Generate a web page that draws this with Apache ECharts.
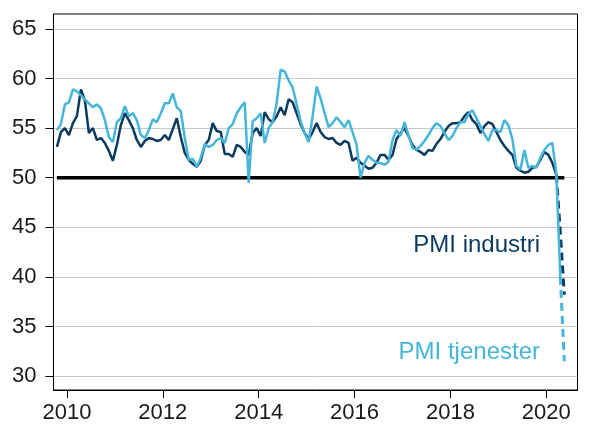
<!DOCTYPE html>
<html>
<head>
<meta charset="utf-8">
<script src="https://cdn.jsdelivr.net/npm/echarts@6/dist/echarts.min.js"></script>
<style>
html,body{margin:0;padding:0;background:#fff;}
#chart{width:590px;height:426px;}
</style>
</head>
<body>
<div id="chart"></div>
<script>
// PMI, månedlige tall fra okt 2009 til mai 2020
var startAar=2009, startMnd=10;
var industri=[
  53.1,54.6,55.0,54.3,55.5,56.2,58.9,57.8,54.5,55.0,53.8,54.0,
  53.5,52.7,51.7,53.3,55.3,56.5,55.8,55.0,53.8,53.1,53.7,54.0,
  53.9,53.7,53.8,54.3,53.8,54.9,56.0,54.1,52.5,51.8,51.4,51.1,
  51.7,53.3,53.8,55.5,54.7,54.6,52.4,52.4,52.1,53.3,53.1,52.6,
  52.3,54.5,55.0,54.2,56.6,55.9,55.6,56.2,57.1,56.3,57.9,57.6,
  56.5,55.4,54.5,53.9,54.6,55.5,54.6,54.1,53.9,54.0,53.5,53.3,
  53.7,53.5,51.7,52.0,51.5,51.2,50.9,51.0,51.5,52.3,52.3,51.8,
  52.3,53.9,54.5,55.0,54.2,53.3,52.8,52.6,52.3,52.8,52.7,53.4,
  53.9,54.6,55.2,55.5,55.5,55.6,56.2,56.6,55.8,55.4,54.5,55.2,
  55.6,55.4,54.6,53.8,53.2,52.7,52.3,51.0,50.7,50.5,50.6,51.0,
  51.1,51.8,52.6,52.3,51.5,50.3,44.5,38.2
];
var tjenester=[
  54.8,55.4,57.4,57.6,58.9,58.7,58.3,57.9,57.5,57.1,57.4,57.0,
  55.8,54.1,53.6,55.6,56.0,57.2,56.2,56.5,55.8,54.3,54.0,54.8,
  55.9,55.6,56.5,57.5,57.5,58.5,57.1,56.7,54.0,51.8,51.9,51.1,
  52.0,53.4,53.1,53.3,53.8,54.0,53.5,55.0,55.4,56.5,57.1,57.6,
  49.5,55.7,56.0,56.5,53.5,55.0,55.6,57.5,60.9,60.7,59.8,59.1,
  57.4,55.7,54.5,53.6,56.2,59.2,58.0,56.5,55.1,55.5,56.1,55.6,
  55.1,55.8,54.6,53.3,50.0,51.5,52.2,51.8,51.5,51.5,51.3,51.6,
  53.8,54.8,54.2,55.6,54.3,53.0,52.8,53.2,53.7,54.3,55.0,55.5,
  55.2,54.5,53.8,54.2,55.0,55.6,55.6,56.4,56.8,56.0,55.2,54.4,
  53.7,54.8,54.8,54.6,55.8,55.3,53.9,51.2,50.8,52.8,51.0,51.2,
  51.0,52.0,52.8,53.3,53.5,50.5,40.0,31.5
];
// siste punkt med heltrukket linje, resten stiplet
var sisteHelIndustri=125;
var sisteHelTjenester=126;
var nivaa50=50;
var yTicks=[30,35,40,45,50,55,60,65];
var xTicks=[2010,2012,2014,2016,2018,2020];

var farge1="#0b3a5f";
var farge2="#45b5da";

// desimalår midt i måneden
var datoer=industri.map(function(v,i){
  return startAar+(startMnd-1+i+0.5)/12;
});
var par=function(arr,fra,til){
  var ut=[];
  for(var i=fra;i<=til;i++){ut.push([datoer[i],arr[i]]);}
  return ut;
};
var sist=industri.length-1;

var chart=echarts.init(document.getElementById("chart"));
chart.setOption({
  animation:false,
  grid:{
    left:53.5, right:12.5, top:14, bottom:36,
    show:true, borderColor:"#000", borderWidth:1, backgroundColor:"transparent"
  },
  xAxis:{
    type:"value",
    min:2009.72, max:2020.65,
    axisLine:{lineStyle:{color:"#000",width:1}},
    axisTick:{show:true,length:8,lineStyle:{color:"#000"},customValues:xTicks},
    axisLabel:{
      customValues:xTicks, margin:12,
      fontFamily:"Liberation Sans", fontSize:22, color:"#1a1a1a",
      formatter:function(v){return String(Math.round(v));}
    },
    splitLine:{show:false}
  },
  yAxis:{
    type:"value",
    min:28.6, max:66.5,
    axisLine:{show:true,lineStyle:{color:"#000",width:1}},
    axisTick:{show:true,length:8,lineStyle:{color:"#000"},customValues:yTicks},
    axisLabel:{
      customValues:yTicks, margin:17,
      fontFamily:"Liberation Sans", fontSize:22, color:"#1a1a1a"
    },
    splitLine:{show:true,lineStyle:{color:"#c8c8c8",width:1}}
  },
  series:[
    {
      name:"50",
      type:"line", symbol:"none", z:1,
      data:datoer.map(function(d){return [d,nivaa50];}),
      lineStyle:{color:"#000",width:3.5}
    },
    {
      name:"PMI industri",
      type:"line", symbol:"none", z:2,
      data:par(industri,0,sisteHelIndustri),
      lineStyle:{color:farge1,width:2.5}
    },
    {
      name:"PMI industri stiplet",
      type:"line", symbol:"none", z:2,
      data:par(industri,sisteHelIndustri,sist),
      lineStyle:{color:farge1,width:3,type:[8,5]}
    },
    {
      name:"PMI tjenester",
      type:"line", symbol:"none", z:3,
      data:par(tjenester,0,sisteHelTjenester),
      lineStyle:{color:farge2,width:2.5}
    },
    {
      name:"PMI tjenester stiplet",
      type:"line", symbol:"none", z:3,
      data:par(tjenester,sisteHelTjenester,sist),
      lineStyle:{color:farge2,width:3,type:[8,5]}
    }
  ],
  graphic:[
    {
      type:"text", x:540, y:245, z:10,
      style:{text:"PMI industri", align:"right", verticalAlign:"middle",
        font:'24px "Liberation Sans"', fill:farge1}
    },
    {
      type:"text", x:540, y:352, z:10,
      style:{text:"PMI tjenester", align:"right", verticalAlign:"middle",
        font:'24px "Liberation Sans"', fill:farge2}
    }
  ]
});
</script>
</body>
</html>
